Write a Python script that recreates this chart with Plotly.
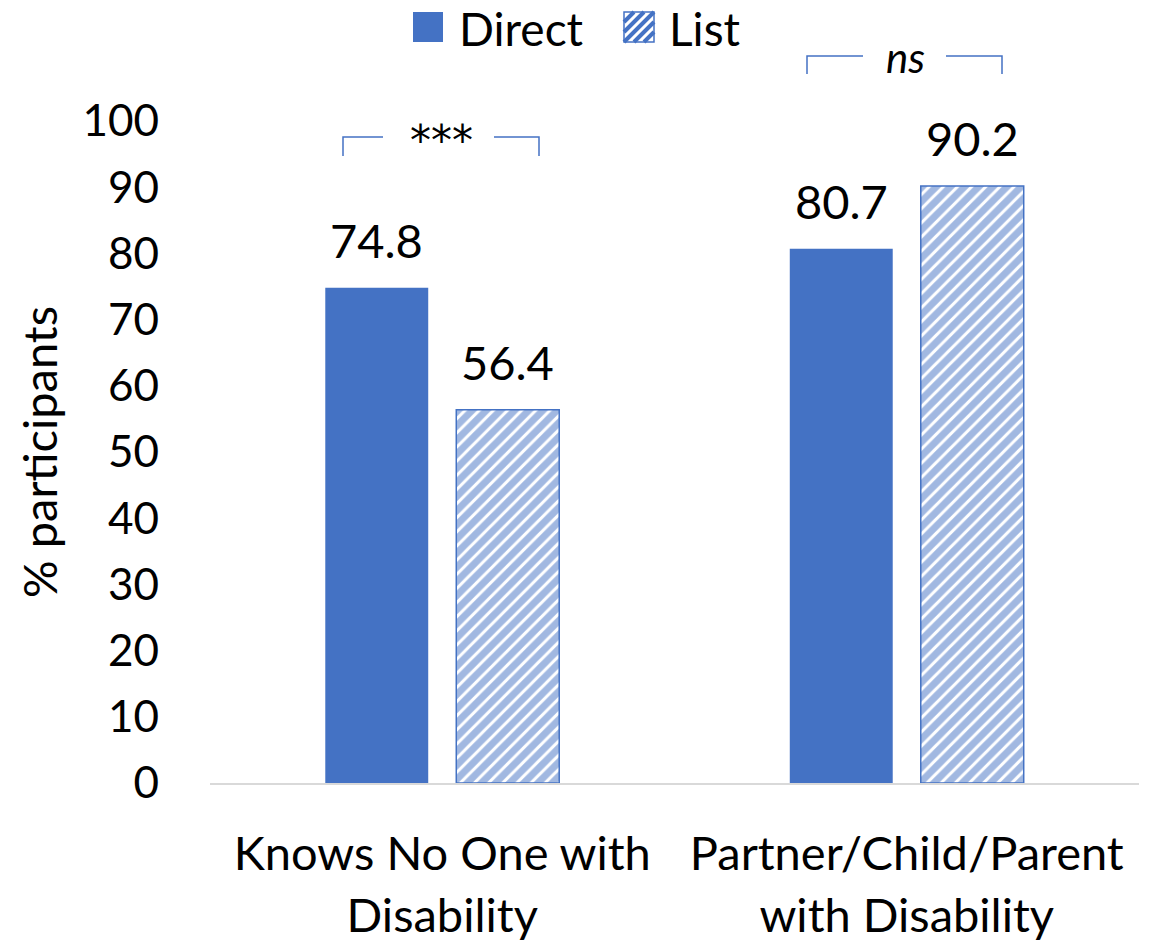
import plotly.graph_objects as go

categories = ["Knows No One with<br>Disability", "Partner/Child/Parent<br>with Disability"]
direct_vals = [74.8, 80.7]
list_vals = [56.4, 90.2]
y_ticks = [0, 10, 20, 30, 40, 50, 60, 70, 80, 90, 100]
sig_labels = ["***", "<i>ns</i>"]
series_names = ["Direct", "List"]

BLUE = "#4472C4"
FONT = "Lato, Carlito, Calibri, sans-serif"
FS = 47

OFS = 8  # page body margin
L, R, T, B = 210 - OFS, 1139 - OFS, 121 - OFS, 783 - OFS
W, H = 1167 - OFS, 943 - OFS
def px(x):
    return (x - OFS - L) / (R - L)
def py(y):
    return (B - (y - OFS)) / (B - T)

fig = go.Figure()
fig.add_trace(go.Bar(
    name=series_names[0], x=categories, y=direct_vals,
    marker=dict(color=BLUE, line=dict(width=0)), showlegend=False,
))
fig.add_trace(go.Bar(
    name=series_names[1], x=categories, y=list_vals,
    marker=dict(color="white", line=dict(color=BLUE, width=1.5),
                pattern=dict(shape="/", fgcolor=BLUE, bgcolor="white", size=10, solidity=0.7)),
    showlegend=False,
))

annotations = []
OFF = 65.5
for vals, sh in [(direct_vals, -OFF), (list_vals, OFF)]:
    for c, v in zip(categories, vals):
        annotations.append(dict(x=c, y=v, xref="x", yref="y", text=f"{v:.1f}", showarrow=False,
                                xshift=sh, yshift=18, yanchor="bottom", xanchor="center",
                                font=dict(size=FS, color="black", family=FONT)))

shapes = []
brackets = [
    (343, 383, 494, 539, 137, 156, 441, 140, "DejaVu Sans", 42),
    (807, 863, 946, 1002, 56, 74, 905, 57, FONT, 42),
]
for (x0, x1, x2, x3, yt, yb, lx, ly, fam, fsz), lab in zip(brackets, sig_labels):
    for path in [
        f"M {px(x0)},{py(yb)} L {px(x0)},{py(yt)} L {px(x1)},{py(yt)}",
        f"M {px(x2)},{py(yt)} L {px(x3)},{py(yt)} L {px(x3)},{py(yb)}",
    ]:
        shapes.append(dict(type="path", xref="paper", yref="paper", path=path,
                           line=dict(color=BLUE, width=1.5)))
    annotations.append(dict(xref="paper", yref="paper", x=px(lx), y=py(ly), text=lab,
                            showarrow=False, font=dict(size=fsz, color="black", family=fam),
                            xanchor="center", yanchor="middle"))

# custom legend
sq = 30
leg_y0, leg_y1 = 12, 42
d_x0, l_x0 = 413, 624
shapes.append(dict(type="rect", xref="paper", yref="paper",
                   x0=px(d_x0), x1=px(d_x0 + sq), y0=py(leg_y1), y1=py(leg_y0),
                   fillcolor=BLUE, line=dict(width=0)))
shapes.append(dict(type="rect", xref="paper", yref="paper",
                   x0=px(l_x0), x1=px(l_x0 + sq), y0=py(leg_y1), y1=py(leg_y0),
                   fillcolor="white", line=dict(color=BLUE, width=1.5)))
step = 10
segs = []
for k in range(-sq, 2 * sq, step):
    u0 = max(0, k); u1 = min(sq, sq + k)
    if u1 - u0 <= 2:
        continue
    v0 = u0 - k; v1 = u1 - k
    segs.append(f"M {px(l_x0 + u0)},{py(leg_y1 - v0)} L {px(l_x0 + u1)},{py(leg_y1 - v1)}")
shapes.append(dict(type="path", xref="paper", yref="paper", path=" ".join(segs),
                   line=dict(color=BLUE, width=4)))
annotations.append(dict(xref="paper", yref="paper", x=px(457), y=py(28), text=series_names[0],
                        showarrow=False, xanchor="left", yanchor="middle",
                        font=dict(size=46, color="black", family=FONT)))
annotations.append(dict(xref="paper", yref="paper", x=px(667), y=py(28), text=series_names[1],
                        showarrow=False, xanchor="left", yanchor="middle",
                        font=dict(size=46, color="black", family=FONT)))

fig.update_layout(
    width=W, height=H,
    margin=dict(l=L, r=W - R, t=T, b=H - B, pad=0, autoexpand=False),
    paper_bgcolor="white", plot_bgcolor="white",
    font=dict(family=FONT, size=FS, color="black"),
    barmode="group", bargap=0.436, bargroupgap=0.214,
    showlegend=False,
    shapes=shapes, annotations=annotations,
)
fig.update_yaxes(range=[0, 100], tickvals=y_ticks, showgrid=False, zeroline=False,
                 showline=False, ticks="", ticklabelstandoff=50, automargin=False,
                 tickfont=dict(size=44, family=FONT),
                 title=dict(text="% participants", font=dict(size=FS, family=FONT), standoff=9))
fig.update_xaxes(showgrid=False, showline=True, linecolor="#d9d9d9", linewidth=2,
                 ticks="", ticklabelstandoff=29, automargin=False,
                 tickfont=dict(size=FS, family=FONT))

fig.write_html("out.html")
